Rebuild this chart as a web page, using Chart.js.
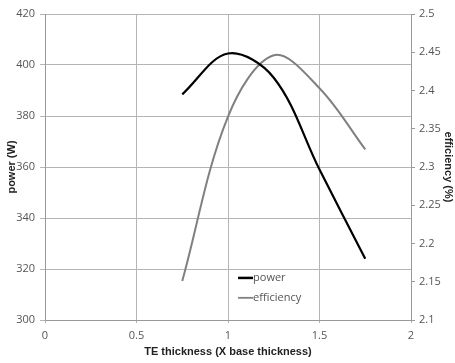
<!DOCTYPE html>
<html>
<head>
<meta charset="utf-8">
<script src="https://cdn.jsdelivr.net/npm/chart.js@4"></script>
<style>
  html, body { margin: 0; padding: 0; background: #fff; }
  #wrap { width: 455px; height: 363px; }
</style>
</head>
<body>
<div id="wrap"><canvas id="teChart" width="455" height="363"></canvas></div>
<script>
// Data
const thickness = [0.75, 1, 1.25, 1.5, 1.75];
const power = [388.5, 404.5, 395, 359, 324];
const efficiency = [2.151, 2.366, 2.446, 2.403, 2.323];
const seriesNames = ["power", "efficiency"];

const tickFont = { family: "Open Sans", size: 11 };
const titleFont = { family: "Liberation Sans", size: 11, weight: "bold" };

// drop trailing zeros: 2.50 -> 2.5, 2.0 -> 2
const plainNum = (v) => String(Number(v.toFixed(2)));

// legend drawn inside the plot, near the bottom middle
const innerLegend = {
  id: "innerLegend",
  afterDraw(chart) {
    const ctx = chart.ctx;
    const x = chart.scales.x.getPixelForValue(1.055);
    const rows = [
      { label: seriesNames[0], color: "#000", width: 2.5, y: chart.scales.y.getPixelForValue(316.5) },
      { label: seriesNames[1], color: "#808080", width: 1.8, y: chart.scales.y.getPixelForValue(308.7) },
    ];
    ctx.save();
    ctx.font = "11px 'Open Sans'";
    ctx.textBaseline = "middle";
    rows.forEach((r) => {
      ctx.strokeStyle = r.color;
      ctx.lineWidth = r.width;
      ctx.beginPath();
      ctx.moveTo(x, r.y);
      ctx.lineTo(x + 15, r.y);
      ctx.stroke();
      ctx.fillStyle = "#555";
      ctx.fillText(r.label, x + 15, r.y);
    });
    ctx.restore();
  },
};

const teData = {
  datasets: [
    {
      label: seriesNames[0],
      data: thickness.map((t, i) => ({ x: t, y: power[i] })),
      borderColor: "#000000",
      borderWidth: 2.2,
      pointRadius: 0,
      tension: 0.35,
      yAxisID: "y",
    },
    {
      label: seriesNames[1],
      data: thickness.map((t, i) => ({ x: t, y: efficiency[i] })),
      borderColor: "#808080",
      borderWidth: 2,
      pointRadius: 0,
      tension: 0.35,
      yAxisID: "y1",
    },
  ],
};

const teConfig = {
  type: "line",
  data: teData,
  options: {
    responsive: false,
    animation: false,
    layout: { padding: { top: 14, right: 0, left: 0, bottom: 0 } },
    plugins: {
      legend: { display: false },
      tooltip: { enabled: false },
    },
    scales: {
      x: {
        type: "linear",
        min: 0,
        max: 2,
        ticks: { stepSize: 0.5, color: "#555", font: tickFont, padding: 6, callback: plainNum },
        grid: { color: "#b5b5b5", tickLength: 3 },
        border: { color: "#999" },
        title: { display: true, text: "TE thickness (X base thickness)", color: "#222", font: titleFont, padding: { top: 0 } },
        afterFit(scale) { scale.height = 43; },
      },
      y: {
        position: "left",
        min: 300,
        max: 420,
        ticks: { stepSize: 20, color: "#555", font: tickFont, padding: 5 },
        grid: { color: "#b5b5b5", tickLength: 5 },
        border: { color: "#999" },
        title: { display: true, text: "power (W)", color: "#222", font: titleFont, padding: { top: 5, bottom: 0 } },
        afterFit(scale) { scale.width = 45; },
      },
      y1: {
        position: "right",
        min: 2.1,
        max: 2.5,
        ticks: { stepSize: 0.05, color: "#555", font: tickFont, padding: 4, callback: plainNum },
        grid: { drawOnChartArea: false, color: "#999", tickLength: 4 },
        border: { color: "#999" },
        title: { display: true, text: "efficiency (%)", color: "#222", font: titleFont, padding: 0 },
        afterFit(scale) { scale.width = 44; },
      },
    },
  },
  plugins: [innerLegend],
};

const teChart = new Chart(document.getElementById("teChart"), teConfig);
</script>
</body>
</html>
